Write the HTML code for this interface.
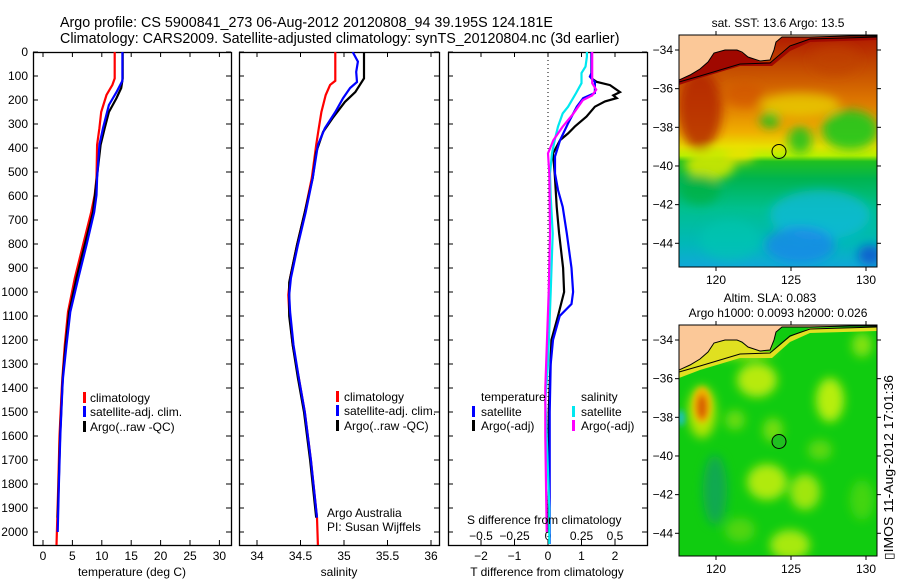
<!DOCTYPE html>
<html><head><meta charset="utf-8"><style>
html,body{margin:0;padding:0;background:#fff;}
svg{display:block;font-family:"Liberation Sans",sans-serif;}
</style></head><body>
<svg id="fig" width="900" height="580" viewBox="0 0 900 580" xmlns="http://www.w3.org/2000/svg">
<defs>
<linearGradient id="sstg" x1="0" y1="0" x2="0" y2="1">
<stop offset="0" stop-color="#b01800"/><stop offset="0.12" stop-color="#c04400"/><stop offset="0.3" stop-color="#e07c00"/><stop offset="0.42" stop-color="#f0b000"/><stop offset="0.48" stop-color="#e8e000"/><stop offset="0.52" stop-color="#b8f000"/><stop offset="0.545" stop-color="#20c020"/><stop offset="0.62" stop-color="#00b450"/><stop offset="0.75" stop-color="#00c090"/><stop offset="0.9" stop-color="#00b8b8"/><stop offset="1" stop-color="#10a8d8"/>
</linearGradient>
<filter id="bl" x="-50%" y="-50%" width="200%" height="200%"><feGaussianBlur stdDeviation="5"/></filter>
<filter id="bl2" x="-50%" y="-50%" width="200%" height="200%"><feGaussianBlur stdDeviation="3"/></filter>
<clipPath id="cm1"><rect x="679" y="35" width="198" height="232"/></clipPath>
<clipPath id="cm2"><rect x="679" y="325" width="198" height="231"/></clipPath>
</defs>

<text x="60" y="27" font-size="14.3">Argo profile: CS 5900841_273 06-Aug-2012 20120808_94 39.195S 124.181E</text>
<text x="60" y="43" font-size="14.3">Climatology: CARS2009. Satellite-adjusted climatology: synTS_20120804.nc (3d earlier)</text>

<g id="panels"></g>

<!-- SST map -->
<g clip-path="url(#cm1)">
<rect x="679" y="35" width="198" height="232" fill="url(#sstg)"/>
<g filter="url(#bl)">
<ellipse cx="700" cy="110" rx="22" ry="40" fill="#b02000" opacity="0.8"/>
<ellipse cx="745" cy="95" rx="20" ry="12" fill="#d05000" opacity="0.6"/>
<ellipse cx="835" cy="60" rx="25" ry="15" fill="#c04000" opacity="0.6"/>
<ellipse cx="800" cy="105" rx="40" ry="12" fill="#e8d800" opacity="0.7"/>
<ellipse cx="770" cy="120" rx="10" ry="8" fill="#20c020" opacity="0.9"/>
<ellipse cx="850" cy="130" rx="28" ry="20" fill="#20c820" opacity="0.9"/>
<ellipse cx="800" cy="140" rx="12" ry="14" fill="#10c020" opacity="0.8"/>
<ellipse cx="710" cy="165" rx="25" ry="15" fill="#d0e800" opacity="0.9"/>
<ellipse cx="740" cy="155" rx="15" ry="8" fill="#f0e000" opacity="0.8"/>
<ellipse cx="820" cy="215" rx="50" ry="25" fill="#10b8e0" opacity="0.7"/>
<ellipse cx="800" cy="245" rx="35" ry="18" fill="#2080f0" opacity="0.7"/>
<ellipse cx="870" cy="255" rx="12" ry="10" fill="#1050d0" opacity="0.8"/>
<ellipse cx="730" cy="240" rx="30" ry="20" fill="#00c8b0" opacity="0.6"/>
<ellipse cx="700" cy="190" rx="20" ry="15" fill="#00b040" opacity="0.7"/>
</g>
<polygon points="679,80 690,75 700,69 708,62 714,53 725,50 737,50 748,57 760,62 772,62 790,47 810,38 877,37 877,40 810,42 790,51 772,66 740,66 700,78 679,85" fill="#a00800"/>
<polygon points="679,35 679,80 690,75 700,69 708,62 714,53 725,50 737,50 742,52 748,57 760,61 770,60 774,50 776,42 782,37 810,37 850,36 877,36 877,35" fill="#fbc898" stroke="#000" stroke-width="1"/>
<polyline points="679,82 700,76 740,64 770,63 790,46 810,39 877,37" fill="none" stroke="#000" stroke-width="1"/>
<circle cx="779" cy="151.5" r="7" fill="none" stroke="#000" stroke-width="1"/>
</g>
<rect x="679" y="35" width="198" height="232" fill="none" stroke="#000" stroke-width="1"/>
<text x="778" y="27" font-size="12" text-anchor="middle">sat. SST: 13.6 Argo: 13.5</text>

<!-- SLA map -->
<g clip-path="url(#cm2)">
<rect x="679" y="325" width="198" height="231" fill="#10cc10"/>
<g filter="url(#bl)">
<ellipse cx="757" cy="380" rx="20" ry="17" fill="#c0ec10" opacity="0.95"/>
<ellipse cx="830" cy="400" rx="14" ry="22" fill="#c0f010" opacity="0.95"/>
<ellipse cx="773" cy="430" rx="10" ry="12" fill="#80e010" opacity="0.9"/>
<ellipse cx="735" cy="420" rx="10" ry="10" fill="#80e010" opacity="0.8"/>
<ellipse cx="767" cy="482" rx="20" ry="18" fill="#b8ec10" opacity="0.95"/>
<ellipse cx="805" cy="492" rx="15" ry="18" fill="#a8e810" opacity="0.95"/>
<ellipse cx="790" cy="545" rx="20" ry="15" fill="#b8ec10" opacity="0.9"/>
<ellipse cx="820" cy="450" rx="12" ry="10" fill="#70dc10" opacity="0.8"/>
<ellipse cx="862" cy="345" rx="10" ry="12" fill="#a0e810" opacity="0.8"/>
<ellipse cx="740" cy="350" rx="35" ry="8" fill="#e0e810" opacity="0.8"/>
<ellipse cx="715" cy="490" rx="12" ry="35" fill="#10a060" opacity="0.8"/>
<ellipse cx="862" cy="500" rx="12" ry="20" fill="#50d810" opacity="0.8"/>
<ellipse cx="702" cy="412" rx="14" ry="26" fill="#c8e800" opacity="0.9"/>
<ellipse cx="740" cy="530" rx="15" ry="12" fill="#60d810" opacity="0.8"/>
</g>
<g filter="url(#bl2)">
<ellipse cx="702" cy="405" rx="9" ry="18" fill="#f0b000"/>
<ellipse cx="702" cy="407" rx="5" ry="12" fill="#d86000"/>
<ellipse cx="681" cy="418" rx="4" ry="8" fill="#20c0c0"/>
</g>
<polygon points="679,370 690,365 700,359 708,352 714,343 725,340 737,340 748,347 760,352 772,352 790,337 810,328 877,327 877,331 810,333 790,342 772,358 740,358 700,370 679,378" fill="#e0e020"/>
<polygon points="679,325 679,370 690,365 700,359 708,352 714,343 725,340 737,340 742,342 748,347 760,351 770,350 774,340 776,332 782,327 810,327 850,326 877,326 877,325" fill="#fbc898" stroke="#000" stroke-width="1"/>
<polyline points="679,372 700,366 740,354 770,353 790,336 810,329 877,327" fill="none" stroke="#000" stroke-width="1"/>
<circle cx="779" cy="441.5" r="7" fill="#20c020" stroke="#000" stroke-width="1"/>
</g>
<rect x="679" y="325" width="198" height="231" fill="none" stroke="#000" stroke-width="1"/>
<text x="770" y="302" font-size="12" text-anchor="middle">Altim. SLA: 0.083</text>
<text x="778" y="317" font-size="12" text-anchor="middle">Argo h1000: 0.0093 h2000: 0.026</text>
<text transform="translate(893,560) rotate(-90)" font-size="12.5" textLength="185" lengthAdjust="spacingAndGlyphs">▯IMOS 11-Aug-2012 17:01:36</text>
<g id="mapaxes"></g>
</svg>
<script>
// ---- data ----
const tClimD=[0,110,137,179,250,317,387,525,596,667,804,942,1083,1221,1358,1400,1600,1800,2054];
const tClimV=[12.2,12.2,11.8,10.8,9.9,9.6,9.2,9.1,8.8,8.2,6.8,5.4,4.25,3.7,3.3,3.2,2.8,2.6,2.3];
const tSatD=[0,120,167,221,317,387,525,596,667,804,942,1083,1221,1358,1400,1600,1800,2000];
const tSatV=[13.5,13.5,12.5,11.2,10.2,9.6,9.2,9.1,8.7,7.4,6.0,4.65,4.0,3.4,3.3,2.95,2.7,2.5];
const tArgoD=[0,110,150,192,250,317,387,525,667,804,942,1083,1221,1358,1600,1940];
const tArgoV=[13.55,13.55,13.3,12.5,11.2,10.5,9.8,9.15,8.5,7.1,5.7,4.45,3.85,3.35,2.9,2.5];

const sClimD=[0,120,137,179,250,317,387,525,667,804,942,1012,1083,1221,1358,1500,1700,1940,2054];
const sClimV=[34.90,34.90,34.84,34.79,34.74,34.71,34.68,34.63,34.55,34.46,34.38,34.36,34.37,34.41,34.48,34.55,34.62,34.69,34.70];
const sSatD=[0,40,83,125,150,192,250,317,387,525,667,804,942,1012,1083,1221,1358,1500,1700,1940];
const sSatV=[35.10,35.16,35.14,35.15,35.07,34.99,34.90,34.78,34.70,34.64,34.56,34.47,34.39,34.37,34.38,34.42,34.48,34.55,34.62,34.69];
const sArgoD=[0,110,167,208,275,333,417,525,667,804,960,1100,1221,1358,1500,1700,1940];
const sArgoV=[35.23,35.23,35.13,35.01,34.87,34.76,34.68,34.64,34.55,34.46,34.37,34.37,34.41,34.47,34.54,34.61,34.68];

const dTSatD=[0,88,103,124,171,192,228,297,367,436,506,575,645,756,900,1000,1050,1100,1200,1300,1500,2050];
const dTSatV=[1.3,1.3,1.25,1.4,1.4,1.05,0.86,0.6,0.36,0.21,0.21,0.3,0.44,0.56,0.7,0.75,0.7,0.35,0.15,0.08,0.05,0.05];
const dTArgoD=[0,110,124,138,167,181,192,206,228,269,311,339,367,422,506,645,756,900,1000,1100,1200,1500,2000];
const dTArgoV=[1.3,1.3,1.45,1.85,2.15,1.95,2.05,1.7,1.4,1.15,0.8,0.6,0.36,0.15,0.2,0.26,0.33,0.45,0.48,0.3,0.1,0.02,0.02];
const dSSatD=[0,20,61,88,130,171,228,256,311,367,422,506,600,756,1000,1300,1450,1600,1900,2050];
const dSSatV=[0.29,0.29,0.28,0.25,0.25,0.21,0.15,0.11,0.075,0.05,0.03,0.015,0.02,0.035,0.02,0.0,-0.02,-0.01,0.01,0.01];
const dSArgoD=[0,88,130,157,181,201,256,311,367,422,506,756,1000,1400,1600,2000];
const dSArgoV=[0.33,0.33,0.33,0.36,0.33,0.26,0.19,0.11,0.04,0.0,0.01,0.015,0.005,-0.02,-0.02,-0.01];

const depthTicks=[0,100,200,300,400,500,600,700,800,900,1000,1100,1200,1300,1400,1500,1600,1700,1800,1900,2000];
const tTicks=[0,5,10,15,20,25,30];
const sTicks=[34,34.5,35,35.5,36];
const sTickLabels=["34","34.5","35","35.5","36"];
const dTTicks=[-2,-1,0,1,2];
const dSTicks=[-0.5,-0.25,0,0.25,0.5];
const dSTickLabels=["\u22120.5","\u22120.25","0","0.25","0.5"];
const lonTicks=[120,125,130];
const latTicks=[-34,-36,-38,-40,-42,-44];

// ---- axes ----
const NS="http://www.w3.org/2000/svg";
const PT=52, PB=545;
function yD(d){return PT+d*0.24;}
function xT(v){return 43+v*5.88;}
function xS(v){return 257+(v-34)*87;}
function xdT(v){return 548+v*33.5;}
function xdS(v){return 548+v*134;}
function lonX(l){return 716+(l-120)*15;}
function latY(l){return 50+(-34-l)*19.33;}
const root=document.getElementById('panels');
function mk(tag,attrs,parent){const e=document.createElementNS(NS,tag);for(const k in attrs)e.setAttribute(k,attrs[k]);(parent||root).appendChild(e);return e;}
function txt(x,y,s,anchor,parent){const t=mk('text',{x:x,y:y,'font-size':12,'text-anchor':anchor||'start'},parent);t.textContent=s;return t;}

const panels=[{x0:33,x1:231,name:'temperature-panel'},{x0:239,x1:439,name:'salinity-panel'},{x0:448,x1:647,name:'difference-panel'}];
panels.forEach((p,i)=>{
  const cp=mk('clipPath',{id:'cp'+i});
  mk('rect',{x:p.x0,y:PT,width:p.x1-p.x0,height:PB-PT},cp);
  const g=mk('g',{});
  
  
  p.g=g;
  const r=mk('rect',{x:p.x0+0.5,y:PT+0.5,width:p.x1-p.x0,height:PB-PT,fill:'none',stroke:'#000','stroke-width':1.3},g);
  
  
  depthTicks.forEach(d=>{
    mk('line',{x1:p.x0,x2:p.x0+5,y1:yD(d),y2:yD(d),stroke:'#000'},g);
    mk('line',{x1:p.x1-5,x2:p.x1,y1:yD(d),y2:yD(d),stroke:'#000'},g);
  });
});
depthTicks.forEach(d=>{
  const t=txt(28,yD(d)+4,String(d),'end');
  
  
});
function xticks(p,vals,labels,fx,ly){
  vals.forEach((v,i)=>{
    const x=fx(v);
    mk('line',{x1:x,x2:x,y1:PT,y2:PT+5,stroke:'#000'},p.g);
    mk('line',{x1:x,x2:x,y1:PB-5,y2:PB,stroke:'#000'},p.g);
    const t=txt(x,ly,labels[i],'middle',p.g);
    
    
  });
}
xticks(panels[0],tTicks,tTicks.map(String),xT,560);
xticks(panels[1],sTicks,sTickLabels,xS,560);
dTTicks.forEach(v=>{const x=xdT(v);mk('line',{x1:x,x2:x,y1:PB-5,y2:PB,stroke:'#000'},panels[2].g);
  const t=txt(x,560,v<0?'\u2212'+(-v):String(v),'middle',panels[2].g);
  
  });
dSTicks.forEach((v,i)=>{const x=xdS(v);mk('line',{x1:x,x2:x,y1:PT,y2:PT+5,stroke:'#000'},panels[2].g);
  const t=txt(x,540,dSTickLabels[i],'middle',panels[2].g);
  
  });
const zl=mk('line',{x1:xdT(0),x2:xdT(0),y1:PT,y2:PB,stroke:'#000','stroke-dasharray':'1,3'},panels[2].g);



let a;
a=txt(132,576,'temperature (deg C)','middle');
a=txt(339,576,'salinity','middle');
a=txt(547,576,'T difference from climatology','middle');
a=txt(467,524,'S difference from climatology');
a=txt(327,517,'Argo Australia');
a=txt(327,531,'PI: Susan Wijffels');

function series(D,V,fx,color,i,name){
  const pts=D.map((d,k)=>fx(V[k]).toFixed(1)+','+yD(d).toFixed(1)).join(' ');
  const l=mk('polyline',{points:pts,fill:'none',stroke:color,'stroke-width':2.2,'clip-path':'url(#cp'+i+')'},panels[i].g);
  
  
}
series(tClimD,tClimV,xT,'#ff0000',0,'temperature-climatology-line');
series(tArgoD,tArgoV,xT,'#000000',0,'temperature-argo-line');
series(tSatD,tSatV,xT,'#0000ff',0,'temperature-satellite-line');
series(sClimD,sClimV,xS,'#ff0000',1,'salinity-climatology-line');
series(sArgoD,sArgoV,xS,'#000000',1,'salinity-argo-line');
series(sSatD,sSatV,xS,'#0000ff',1,'salinity-satellite-line');
series(dTArgoD,dTArgoV,xdT,'#000000',2,'t-diff-argo-line');
series(dTSatD,dTSatV,xdT,'#0000ff',2,'t-diff-satellite-line');
series(dSSatD,dSSatV,xdS,'#00e8f0',2,'s-diff-satellite-line');
series(dSArgoD,dSArgoV,xdS,'#ff00ff',2,'s-diff-argo-line');

function legend(bx,tx,y,color,label,name){
  const b=mk('rect',{x:bx,y:y-6,width:3,height:11,fill:color});
  
  
  const t=txt(tx,y+4,label);
  
  
}
legend(83,90,398,'#ff0000','climatology','legend-t-climatology');
legend(83,90,412,'#0000ff','satellite-adj. clim.','legend-t-satellite');
legend(83,90,427,'#000000','Argo(..raw -QC)','legend-t-argo');
legend(336,344,397,'#ff0000','climatology','legend-s-climatology');
legend(336,344,411,'#0000ff','satellite-adj. clim.','legend-s-satellite');
legend(336,344,426,'#000000','Argo(..raw -QC)','legend-s-argo');
a=txt(481,401,'temperature');
a=txt(581,401,'salinity');
legend(472,481,412,'#0000ff','satellite','legend-dt-satellite');
legend(472,481,426,'#000000','Argo(-adj)','legend-dt-argo');
legend(572,581,412,'#00e8f0','satellite','legend-ds-satellite');
legend(572,581,426,'#ff00ff','Argo(-adj)','legend-ds-argo');

// map axes
const ma=document.getElementById('mapaxes');
[[35,267],[325,556]].forEach(([top,bot],m)=>{
  const off=m*290;
  lonTicks.forEach(l=>{const x=lonX(l);
    mk('line',{x1:x,x2:x,y1:top-4,y2:top,stroke:'#000'},ma);
    mk('line',{x1:x,x2:x,y1:bot,y2:bot+4,stroke:'#000'},ma);
    const t=txt(x,bot+17,String(l),'middle',ma);
    
    });
  latTicks.forEach(l=>{const y=latY(l)+off;
    mk('line',{x1:675,x2:679,y1:y,y2:y,stroke:'#000'},ma);
    mk('line',{x1:877,x2:881,y1:y,y2:y,stroke:'#000'},ma);
    const t=txt(673,y+4,'\u2212'+(-l),'end',ma);
    
    });
});
</script>
</body></html>
